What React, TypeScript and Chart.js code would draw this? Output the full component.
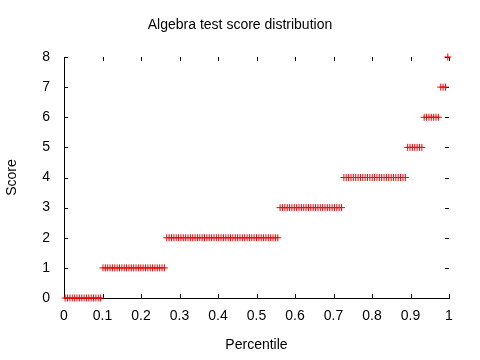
import React, { useEffect, useRef } from "react";
import { Chart, registerables } from "chart.js";

Chart.register(...registerables);

// Number of students obtaining each score
const SCORES = [0, 1, 2, 3, 4, 5, 6, 7, 8];
const COUNTS = [16, 27, 48, 27, 27, 7, 7, 3, 1];
const TITLE = "Algebra test score distribution";
const X_TITLE = "Percentile";
const Y_TITLE = "Score";

const FONT = "'Liberation Sans', Arial, sans-serif";
const FS = 14;

// Each student sorted by score, plotted at its percentile rank
function buildPoints() {
  const total = COUNTS.reduce((a, b) => a + b, 0);
  const pts: { x: number; y: number }[] = [];
  let rank = 0;
  SCORES.forEach((s, i) => {
    for (let k = 0; k < COUNTS[i]; k++) {
      rank += 1;
      pts.push({ x: (rank - 0.5) / total, y: s });
    }
  });
  return pts;
}

const tickPlugin = {
  id: "inwardTicks",
  beforeDatasetsDraw(chart: any) {
    const { ctx, chartArea, scales } = chart;
    const { left, right, top, bottom } = chartArea;
    const xs = scales.x;
    const ys = scales.y;
    const len = 4;
    ctx.save();
    ctx.strokeStyle = "#000";
    ctx.lineWidth = 1;
    ctx.beginPath();
    xs.ticks.forEach((t: any) => {
      const px = Math.round(xs.getPixelForValue(t.value)) + 0.5;
      ctx.moveTo(px, bottom);
      ctx.lineTo(px, bottom - len);
      ctx.moveTo(px, top);
      ctx.lineTo(px, top + len);
    });
    ys.ticks.forEach((t: any) => {
      const py = Math.round(ys.getPixelForValue(t.value)) + 0.5;
      ctx.moveTo(left, py);
      ctx.lineTo(left + len, py);
      ctx.moveTo(right, py);
      ctx.lineTo(right - len, py);
    });
    ctx.stroke();
    ctx.restore();
  },
};

export default function App() {
  const ref = useRef<HTMLCanvasElement | null>(null);

  useEffect(() => {
    if (!ref.current) return;
    const chart = new Chart(ref.current, {
      type: "scatter",
      data: {
        datasets: [
          {
            label: "scores",
            data: buildPoints(),
            pointStyle: "cross",
            pointRadius: 3.5,
            pointBorderWidth: 1,
            borderColor: "#ff0000",
            backgroundColor: "#ff0000",
            showLine: false,
            clip: false as any,
          },
        ],
      },
      options: {
        responsive: false,
        animation: false,
        devicePixelRatio: 1,
        layout: { padding: 0 },
        plugins: {
          legend: { display: false },
          tooltip: { enabled: false },
          title: {
            display: true,
            text: TITLE,
            color: "#000",
            font: { family: FONT, size: FS, weight: "normal" },
            padding: { top: 16.6, bottom: 23.6 },
          },
        },
        scales: {
          x: {
            type: "linear",
            min: 0,
            max: 1,
            grid: { display: false, drawTicks: false },
            border: { display: true, color: "#000", width: 1 },
            ticks: {
              stepSize: 0.1,
              padding: 10,
              color: "#000",
              font: { family: FONT, size: FS },
              maxRotation: 0,
              autoSkip: false,
              callback: (v: any) => String(Number(Number(v).toFixed(1))),
            },
            title: {
              display: true,
              text: X_TITLE,
              color: "#000",
              font: { family: FONT, size: FS },
              padding: { top: 0, bottom: 6.6 },
            },
            afterFit: (s: any) => {
              s.height = 62;
            },
          },
          y: {
            type: "linear",
            min: 0,
            max: 8,
            grid: { display: false, drawTicks: false },
            border: { display: true, color: "#000", width: 1 },
            ticks: {
              stepSize: 1,
              padding: 14,
              color: "#000",
              font: { family: FONT, size: FS },
            },
            title: {
              display: true,
              text: Y_TITLE,
              color: "#000",
              font: { family: FONT, size: FS },
              padding: { top: 4, bottom: 0 },
            },
            afterFit: (s: any) => {
              s.width = 64;
            },
          },
          // empty right margin (keeps the title centred on the whole canvas)
          yRight: {
            type: "linear",
            position: "right",
            min: 0,
            max: 8,
            grid: { display: false, drawTicks: false },
            border: { display: false },
            ticks: { display: false },
            afterFit: (s: any) => {
              s.width = 31;
            },
          },
        },
      },
      plugins: [tickPlugin],
    });
    return () => chart.destroy();
  }, []);

  return (
    <div style={{ position: "absolute", left: 0, top: 0, width: 480, height: 360, background: "#fff" }}>
      <canvas ref={ref} width={480} height={360} />
    </div>
  );
}
